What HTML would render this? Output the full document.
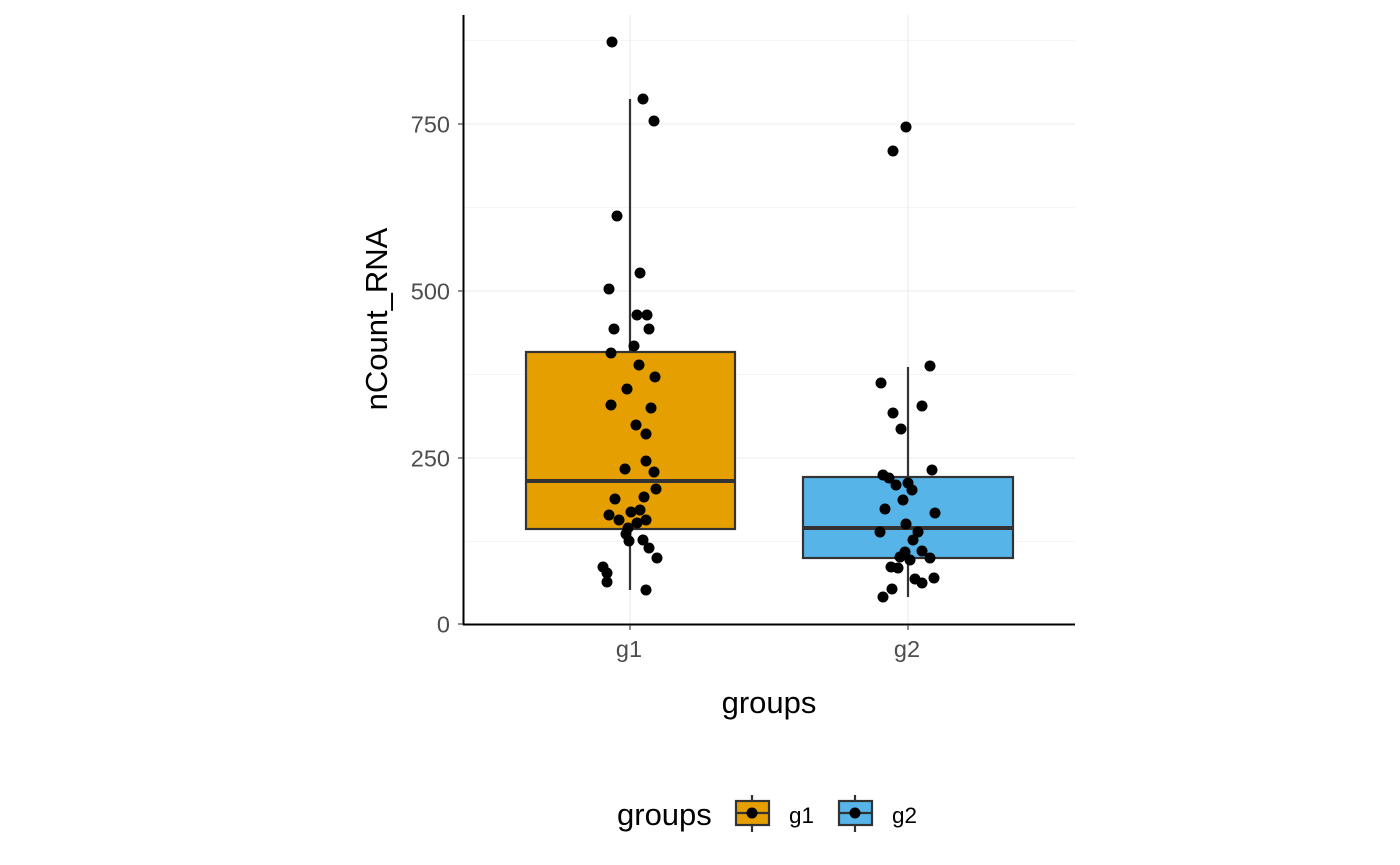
<!DOCTYPE html>
<html><head><meta charset="utf-8"><style>body{margin:0;background:#fff}svg{display:block}</style></head><body>
<svg width="1400" height="865" viewBox="0 0 1400 865" xmlns="http://www.w3.org/2000/svg" font-family="Liberation Sans, Arial, sans-serif">
<rect width="1400" height="865" fill="#fff"/>
<g stroke="#ebebeb" stroke-width="0.6">
<line x1="463" x2="1075" y1="40.5" y2="40.5"/><line x1="463" x2="1075" y1="207.5" y2="207.5"/><line x1="463" x2="1075" y1="374.5" y2="374.5"/><line x1="463" x2="1075" y1="541.5" y2="541.5"/>
</g>
<g stroke="#ebebeb" stroke-width="1.1">
<line x1="463" x2="1075" y1="124" y2="124"/><line x1="463" x2="1075" y1="291" y2="291"/><line x1="463" x2="1075" y1="458" y2="458"/>
<line x1="630" x2="630" y1="15" y2="624"/><line x1="908" x2="908" y1="15" y2="624"/>
</g>
<g stroke="#333" stroke-width="2.2">
<line x1="630" x2="630" y1="99" y2="590"/>
<rect x="526" y="352" width="209" height="177" fill="#E69F00"/>
<line x1="526" x2="735" y1="481" y2="481" stroke-width="4"/>
<line x1="908" x2="908" y1="367" y2="597"/>
<rect x="803" y="477" width="210" height="81" fill="#56B4E9"/>
<line x1="803" x2="1013" y1="528" y2="528" stroke-width="4"/>
</g>
<g fill="#000">
<circle cx="612" cy="42" r="5.5"/><circle cx="643" cy="99" r="5.5"/><circle cx="654" cy="121" r="5.5"/><circle cx="617" cy="216" r="5.5"/><circle cx="640" cy="273" r="5.5"/><circle cx="609" cy="289" r="5.5"/>
<circle cx="637" cy="315" r="5.5"/><circle cx="647" cy="315" r="5.5"/><circle cx="614" cy="329" r="5.5"/><circle cx="649" cy="329" r="5.5"/><circle cx="634" cy="346" r="5.5"/><circle cx="611" cy="353" r="5.5"/><circle cx="639" cy="365" r="5.5"/><circle cx="655" cy="377" r="5.5"/><circle cx="627" cy="389" r="5.5"/><circle cx="611" cy="405" r="5.5"/><circle cx="651" cy="408" r="5.5"/><circle cx="636" cy="425" r="5.5"/><circle cx="646" cy="434" r="5.5"/><circle cx="646" cy="461" r="5.5"/><circle cx="625" cy="469" r="5.5"/><circle cx="654" cy="472" r="5.5"/><circle cx="656" cy="489" r="5.5"/><circle cx="615" cy="499" r="5.5"/><circle cx="644" cy="497" r="5.5"/><circle cx="631" cy="512" r="5.5"/><circle cx="640" cy="510" r="5.5"/><circle cx="609" cy="515" r="5.5"/><circle cx="619" cy="520" r="5.5"/><circle cx="646" cy="520" r="5.5"/><circle cx="637" cy="523" r="5.5"/><circle cx="628" cy="528" r="5.5"/><circle cx="626" cy="534" r="5.5"/><circle cx="629" cy="541" r="5.5"/><circle cx="643" cy="540" r="5.5"/><circle cx="649" cy="548" r="5.5"/><circle cx="657" cy="558" r="5.5"/><circle cx="603" cy="567" r="5.5"/><circle cx="607" cy="573" r="5.5"/><circle cx="607" cy="582" r="5.5"/><circle cx="646" cy="590" r="5.5"/>
<circle cx="906" cy="127" r="5.5"/><circle cx="893" cy="151" r="5.5"/>
<circle cx="930" cy="366" r="5.5"/><circle cx="881" cy="383" r="5.5"/><circle cx="922" cy="406" r="5.5"/><circle cx="893" cy="413" r="5.5"/><circle cx="901" cy="429" r="5.5"/><circle cx="932" cy="470" r="5.5"/><circle cx="883" cy="475" r="5.5"/><circle cx="889" cy="478" r="5.5"/><circle cx="896" cy="485" r="5.5"/><circle cx="908" cy="483" r="5.5"/><circle cx="912" cy="490" r="5.5"/><circle cx="903" cy="500" r="5.5"/><circle cx="885" cy="509" r="5.5"/><circle cx="935" cy="513" r="5.5"/><circle cx="906" cy="524" r="5.5"/><circle cx="880" cy="532" r="5.5"/><circle cx="918" cy="532" r="5.5"/><circle cx="913" cy="540" r="5.5"/><circle cx="905" cy="552" r="5.5"/><circle cx="922" cy="551" r="5.5"/><circle cx="900" cy="557" r="5.5"/><circle cx="910" cy="560" r="5.5"/><circle cx="930" cy="558" r="5.5"/><circle cx="891" cy="567" r="5.5"/><circle cx="898" cy="568" r="5.5"/><circle cx="915" cy="579" r="5.5"/><circle cx="922" cy="583" r="5.5"/><circle cx="934" cy="578" r="5.5"/><circle cx="892" cy="589" r="5.5"/><circle cx="883" cy="597" r="5.5"/>
</g>
<g stroke="#000" stroke-width="2">
<line x1="463.5" x2="463.5" y1="15" y2="625"/><line x1="463" x2="1075" y1="624.5" y2="624.5"/>
</g>
<g stroke="#333" stroke-width="1.1">
<line x1="458" x2="463" y1="124" y2="124"/><line x1="458" x2="463" y1="291" y2="291"/><line x1="458" x2="463" y1="458" y2="458"/><line x1="458" x2="463" y1="624" y2="624"/>
<line x1="630" x2="630" y1="625" y2="630"/><line x1="908" x2="908" y1="625" y2="630"/>
</g>
<g fill="#4d4d4d" font-size="23.5" text-anchor="end">
<text x="450" y="132.5">750</text><text x="450" y="299.5">500</text><text x="450" y="466.5">250</text><text x="450" y="632.5">0</text>
</g>
<g fill="#4d4d4d" font-size="23.5" text-anchor="middle">
<text x="629" y="657">g1</text><text x="907" y="657">g2</text>
</g>
<text x="769" y="713" font-size="31" text-anchor="middle">groups</text>
<text transform="translate(387,319) rotate(-90)" font-size="31" text-anchor="middle">nCount_RNA</text>
<text x="617" y="825" font-size="31">groups</text>
<g stroke="#333" stroke-width="2.2">
<line x1="752" x2="752" y1="795" y2="832"/><rect x="736" y="801" width="33" height="24" fill="#E69F00"/><line x1="736" x2="769" y1="813" y2="813"/>
<line x1="855" x2="855" y1="795" y2="832"/><rect x="839" y="801" width="33" height="24" fill="#56B4E9"/><line x1="839" x2="872" y1="813" y2="813"/>
</g>
<circle cx="752" cy="813" r="5.5"/><circle cx="855" cy="813" r="5.5"/>
<text x="789" y="823" font-size="22.5">g1</text><text x="892" y="823" font-size="22.5">g2</text>
</svg>
</body></html>
